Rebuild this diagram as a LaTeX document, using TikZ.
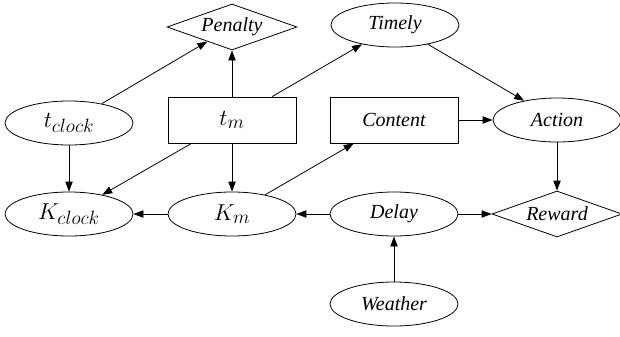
\documentclass[tikz,border=0pt]{standalone}
\usepackage{fontspec}
\setmainfont{Liberation Serif}
\usetikzlibrary{shapes.geometric,arrows.meta}
\begin{document}
\begin{tikzpicture}[x=0.75pt,y=-0.75pt,
	every node/.style={font=\fontsize{15}{18}\selectfont\itshape, draw=black, line width=0.6pt, inner sep=0pt},
	var/.style={ellipse, minimum width=96pt, minimum height=33pt},
	box/.style={rectangle, minimum width=96pt, minimum height=34.5pt},
	util/.style={diamond, aspect=2.8, minimum width=97.5pt, minimum height=34.5pt},
	sym/.style={font=\fontsize{19}{22}\selectfont},
	edge/.style={-{Triangle[length=7.5pt,width=5.5pt]}, line width=0.6pt}]
	\useasboundingbox (0,0) rectangle (620,336);
	% Nodes
	\node [util] (penalty) at (232,27) {Penalty};
	\node [var] (timely) at (395,25) {Timely};
	\node [var, sym] (tclock) at (69,123) {$t_{clock}$};
	\node [box, sym] (tm) at (232,120) {$t_m$};
	\node [box] (content) at (394,120) {Content};
	\node [var] (action) at (557,120) {Action};
	\node [var, sym] (kclock) at (69,214) {$K_{clock}$};
	\node [var, sym] (km) at (232,214) {$K_m$};
	\node [var] (delay) at (394,214) {Delay};
	\node [util] (reward) at (557,214) {Reward};
	\node [var] (weather) at (394,304) {Weather};
	% Edges
	\draw [edge] (tclock) -- (penalty);
	\draw [edge] (tm) -- (penalty);
	\draw [edge] (tm) -- (timely);
	\draw [edge] (tm) -- (kclock);
	\draw [edge] (tm) -- (km);
	\draw [edge] (tclock) -- (kclock);
	\draw [edge] (km) -- (kclock);
	\draw [edge] (km) -- (content);
	\draw [edge] (content) -- (action);
	\draw [edge] (timely) -- (action);
	\draw [edge] (action) -- (reward);
	\draw [edge] (delay) -- (km);
	\draw [edge] (delay) -- (reward);
	\draw [edge] (weather) -- (delay);
\end{tikzpicture}
\end{document}
